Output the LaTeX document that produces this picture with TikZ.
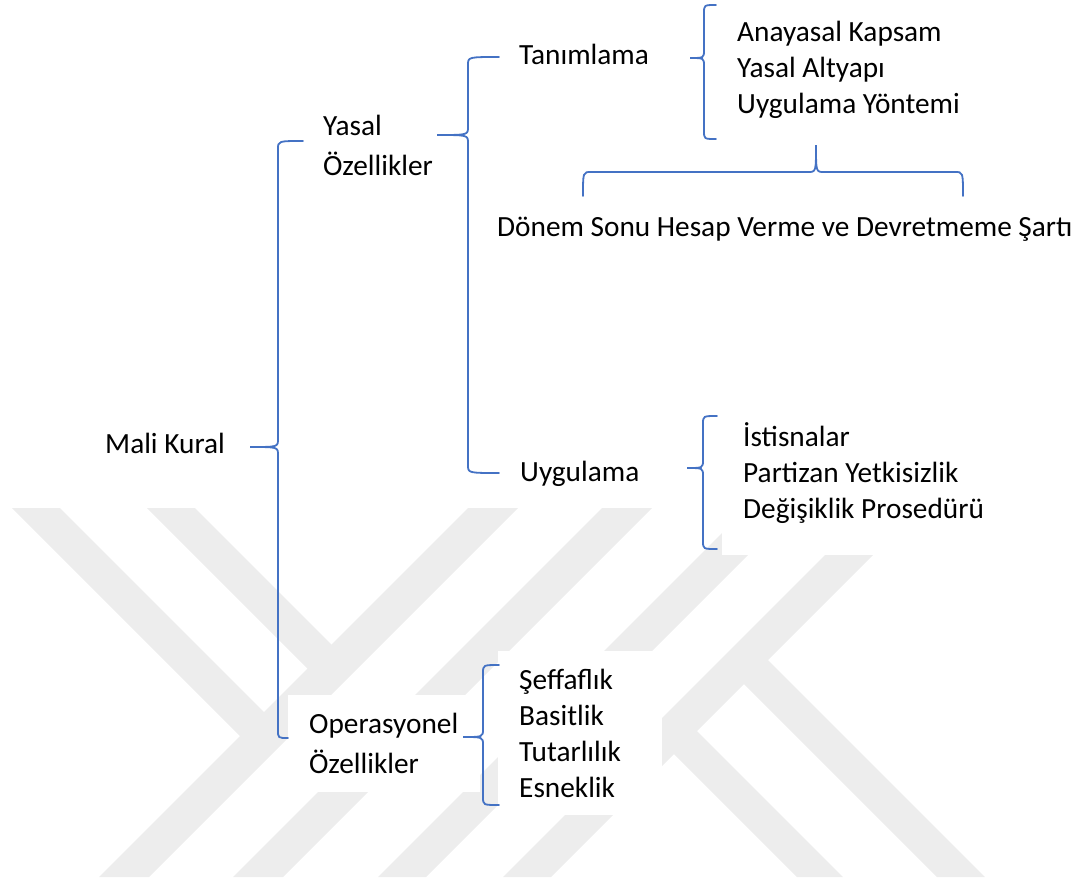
\documentclass[tikz,border=0pt]{standalone}
\usepackage{fontspec}
\setmainfont{Carlito}
\usepackage{xcolor}

\definecolor{brcblue}{HTML}{4472C4}
\definecolor{wmark}{HTML}{EDEDED}
\newcommand\lblfont{\fontsize{29.3}{40.5}\selectfont}
\newcommand\lstfont{\fontsize{29.3}{36}\selectfont}

% vertical brace: spine x, top y, tip y, bottom y, tip x, top end x, bottom end x
\newcommand\vbrc[7]{%
  \draw[brc] (#6,#2) .. controls (#1,#2) .. (#1,#2+8) -- (#1,#3-8)
    .. controls (#1,#3) .. (#5,#3) .. controls (#1,#3) .. (#1,#3+8)
    -- (#1,#4-8) .. controls (#1,#4) .. (#7,#4);}
% horizontal brace: spine y, left x, tip x, right x, tip y, end y
\newcommand\hbrc[6]{%
  \draw[brc] (#2,#6) .. controls (#2,#1) .. (#2+8,#1) -- (#3-8,#1)
    .. controls (#3,#1) .. (#3,#5) .. controls (#3,#1) .. (#3+8,#1)
    -- (#4-8,#1) .. controls (#4,#1) .. (#4,#6);}

\begin{document}
\begin{tikzpicture}[x=1pt, y=-1pt,
    tbox/.style={anchor=base west, fill=white, inner xsep=21pt, inner ysep=18pt,
      font=\lblfont},
    multi/.style={align=flush left, text width=#1},
    lst/.style={font=\lstfont},
    brc/.style={draw=brcblue, line width=1.8pt, line cap=round}]
  \useasboundingbox (0,0) rectangle (1080,884);

  % Watermark
  \fill[wmark] (468,508) -- (518,508) -- (149,877) -- (99,877) -- cycle;
  \fill[wmark] (602,508) -- (652,508) -- (283,877) -- (233,877) -- cycle;
  \fill[wmark] (747,508) -- (795,508) -- (426,877) -- (378,877) -- cycle;
  \fill[wmark] (872,508) -- (920,508) -- (551,877) -- (503,877) -- cycle;
  \fill[wmark] (12,508) -- (60,508) -- (277,725) -- (253,749) -- cycle;
  \fill[wmark] (147,508) -- (195,508) -- (345,658) -- (321,682) -- cycle;
  \fill[wmark] (685,719) -- (843,877) -- (797,877) -- (662,742) -- cycle;
  \fill[wmark] (756,648) -- (985,877) -- (937,877) -- (732,672) -- cycle;

  % Texts
  \node[tbox] (mali) at (84,453) {Mali Kural};
  \node[tbox, multi=120pt] (yasal) at (302,135) {Yasal\\Özellikler};
  \node[tbox] (tan) at (498,64) {Tanımlama};
  \node[tbox, lst, multi=230pt] (tanlist) at (716,41)
    {Anayasal Kapsam\\Yasal Altyapı\\Uygulama Yöntemi};
  \node[tbox] (donem) at (476,236) {Dönem Sonu Hesap Verme ve Devretmeme Şartı};
  \node[tbox] (uyg) at (499,481) {Uygulama};
  \node[tbox, lst, multi=265pt, inner ysep=32pt] (uyglist) at (722,446)
    {İstisnalar\\Partizan Yetkisizlik\\Değişiklik Prosedürü};
  \node[tbox, multi=150pt] (ops) at (288,733) {Operasyonel\\Özellikler};
  \node[tbox, lst, multi=122pt] (opslist) at (498,689)
    {Şeffaflık\\Basitlik\\Tutarlılık\\Esneklik};

  % Braces
  \vbrc{278}{141}{447}{738}{250}{303}{288}
  \vbrc{468}{57}{135}{473}{437}{499}{499}
  \vbrc{704}{5}{58}{139}{690}{716}{716}
  \hbrc{172}{583}{816}{963}{145}{196}
  \vbrc{703}{416}{468}{549}{687}{717}{717}
  \vbrc{483}{665}{737}{805}{463}{499}{499}
\end{tikzpicture}
\end{document}
